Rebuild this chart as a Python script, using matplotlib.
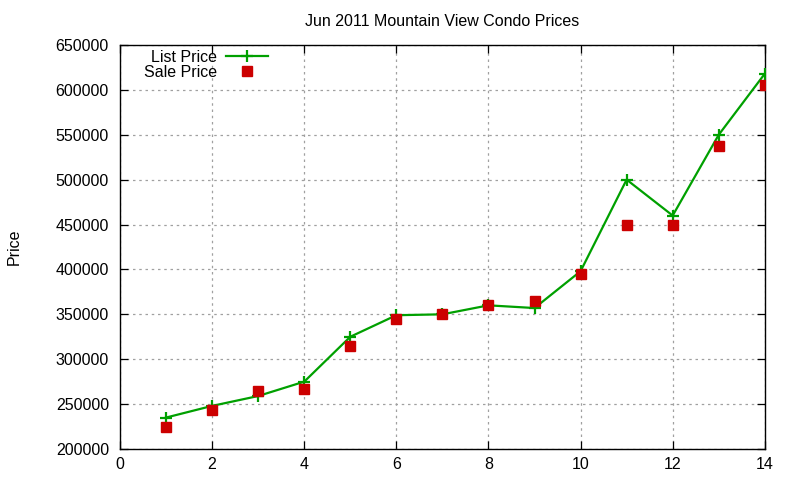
import matplotlib
matplotlib.use("Agg")
import matplotlib.pyplot as plt

plt.rcParams['font.family'] = ['Liberation Sans', 'DejaVu Sans']

x = [1, 2, 3, 4, 5, 6, 7, 8, 9, 10, 11, 12, 13, 14]
list_price = [235000, 248000, 259000, 275000, 325000, 349000, 350000,
              360000, 357000, 398000, 500000, 460000, 550000, 618000]
sale_price = [225000, 243000, 265000, 267000, 315000, 345000, 350000,
              360000, 365000, 395000, 450000, 450000, 537000, 605000]

fig = plt.figure(figsize=(8, 4.8), dpi=100)
ax = fig.add_axes([0.15, 0.0646, 0.806, 0.8417])

ax.plot(x, list_price, color='#00a000', linewidth=1.6, marker='+',
        markersize=9, markeredgewidth=1.6, label='List Price', zorder=3)
ax.plot(x, sale_price, color='#cc0000', linestyle='', marker='s',
        markersize=6.5, label='Sale Price', zorder=4)

ax.set_xlim(0, 14)
ax.set_ylim(200000, 650000)
ax.set_xticks(range(0, 15, 2))
ax.set_yticks(range(200000, 650001, 50000))
ax.grid(True, color='#a0a0a0', linestyle=(0, (2, 3)), linewidth=0.9)
ax.tick_params(direction='in', top=True, right=True, length=6,
               labelsize=11.5, colors='black', width=0.9)
ax.tick_params(axis='y', pad=8)
ax.tick_params(axis='x', pad=6)
for s in ax.spines.values():
    s.set_linewidth(1.0)

ax.set_title('Jun 2011 Mountain View Condo Prices', fontsize=11.5, pad=14)
ax.set_ylabel('Price', fontsize=11.5, labelpad=24)

leg = ax.legend(loc='upper left', bbox_to_anchor=(0.022, 1.012), frameon=False,
                markerfirst=False, fontsize=11.5, handlelength=2.6,
                labelspacing=0.0, borderaxespad=0.2, handletextpad=0.6)

fig.savefig('out.png', dpi=100)
